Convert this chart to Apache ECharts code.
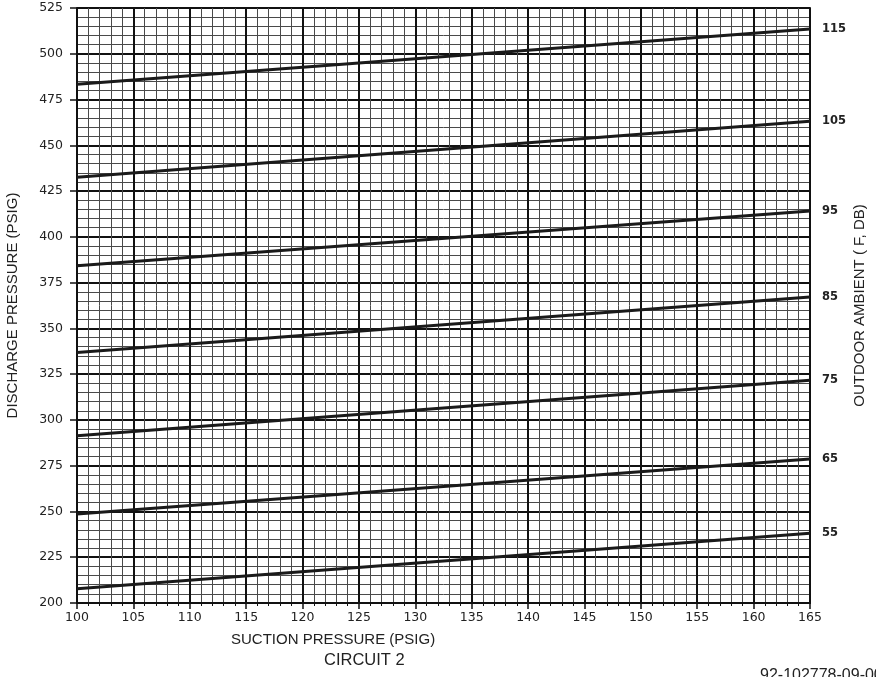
<!DOCTYPE html>
<html>
<head>
<meta charset="utf-8">
<script src="https://cdn.jsdelivr.net/npm/echarts@6/dist/echarts.min.js"></script>
<style>html,body{margin:0;padding:0;background:#fff}#c{width:876px;height:677px}</style>
</head>
<body>
<div id="c"></div>
<script>
// Suction pressure endpoints (PSIG)
var suction = [100, 165];
// Outdoor ambient labels (F, DB)
var ambient = ['115', '105', '95', '85', '75', '65', '55'];
// Discharge pressure at suction 100 and 165 for each ambient line
var d115 = [483.3, 513.5];
var d105 = [432.5, 463.1];
var d95 = [384.2, 414.1];
var d85 = [336.8, 367.2];
var d75 = [291.3, 321.7];
var d65 = [248.6, 278.7];
var d55 = [207.8, 238.1];
var lines = [d115, d105, d95, d85, d75, d65, d55];

var chart = echarts.init(document.getElementById('c'));
var series = lines.map(function (vals, i) {
  return {
    name: ambient[i],
    type: 'line',
    data: suction.map(function (x, j) { return [x, vals[j]]; }),
    symbol: 'none',
    silent: true,
    lineStyle: { color: '#1a1a1a', width: 3 },
    endLabel: {
      show: true, formatter: '{a}', distance: 12,
      fontFamily: 'DejaVu Sans', fontWeight: 'bold', fontSize: 11.5, color: '#222'
    }
  };
});

chart.setOption({
  animation: false,
  backgroundColor: '#fff',
  grid: { left: 77, right: 66, top: 8, bottom: 74, outerBoundsMode: 'none', containLabel: false },
  xAxis: {
    type: 'value', min: 100, max: 165, interval: 5,
    axisLine: { show: true, lineStyle: { color: '#111', width: 2 } },
    axisTick: { show: true, length: 6, lineStyle: { color: '#111', width: 1.5 } },
    minorTick: { show: true, splitNumber: 5, length: 3, lineStyle: { color: '#111' } },
    axisLabel: { fontFamily: 'DejaVu Sans', fontSize: 12.5, color: '#222', margin: 8 },
    splitLine: { show: true, lineStyle: { color: '#111', width: 2 } },
    minorSplitLine: { show: true, lineStyle: { color: '#4a4a4a', width: 1 } }
  },
  yAxis: [{
    type: 'value', min: 200, max: 525, interval: 25,
    name: 'DISCHARGE PRESSURE (PSIG)', nameLocation: 'middle', nameGap: 57,
    nameTextStyle: { fontFamily: 'Liberation Sans', fontSize: 15, color: '#222' },
    axisLine: { show: true, lineStyle: { color: '#111', width: 2 } },
    axisTick: { show: true, length: 7, lineStyle: { color: '#111', width: 1.5 } },
    minorTick: { show: false, splitNumber: 5 },
    axisLabel: { fontFamily: 'DejaVu Sans', fontSize: 12.5, color: '#222', margin: 14 },
    splitLine: { show: true, lineStyle: { color: '#111', width: 2 } },
    minorSplitLine: { show: true, lineStyle: { color: '#4a4a4a', width: 1 } }
  }, {
    type: 'value', min: 200, max: 525, position: 'right',
    name: 'OUTDOOR AMBIENT ( F, DB)', nameLocation: 'middle', nameGap: 42, nameRotate: 90,
    nameTextStyle: { fontFamily: 'Liberation Sans', fontSize: 15, color: '#222' },
    axisLine: { show: true, lineStyle: { color: '#111', width: 2 } },
    axisTick: { show: false }, axisLabel: { show: false }, splitLine: { show: false }
  }],
  graphic: [
    { type: 'text', left: 231, top: 632,
      style: { text: 'SUCTION PRESSURE (PSIG)', font: '15px "Liberation Sans"', fill: '#222' } },
    { type: 'text', left: 324, top: 652,
      style: { text: 'CIRCUIT 2', font: '16.5px "Liberation Sans"', fill: '#222' } },
    { type: 'text', left: 760, top: 668,
      style: { text: '92-102778-09-00', font: '16px "Liberation Sans"', fill: '#222' } }
  ],
  series: series
});
</script>
</body>
</html>
